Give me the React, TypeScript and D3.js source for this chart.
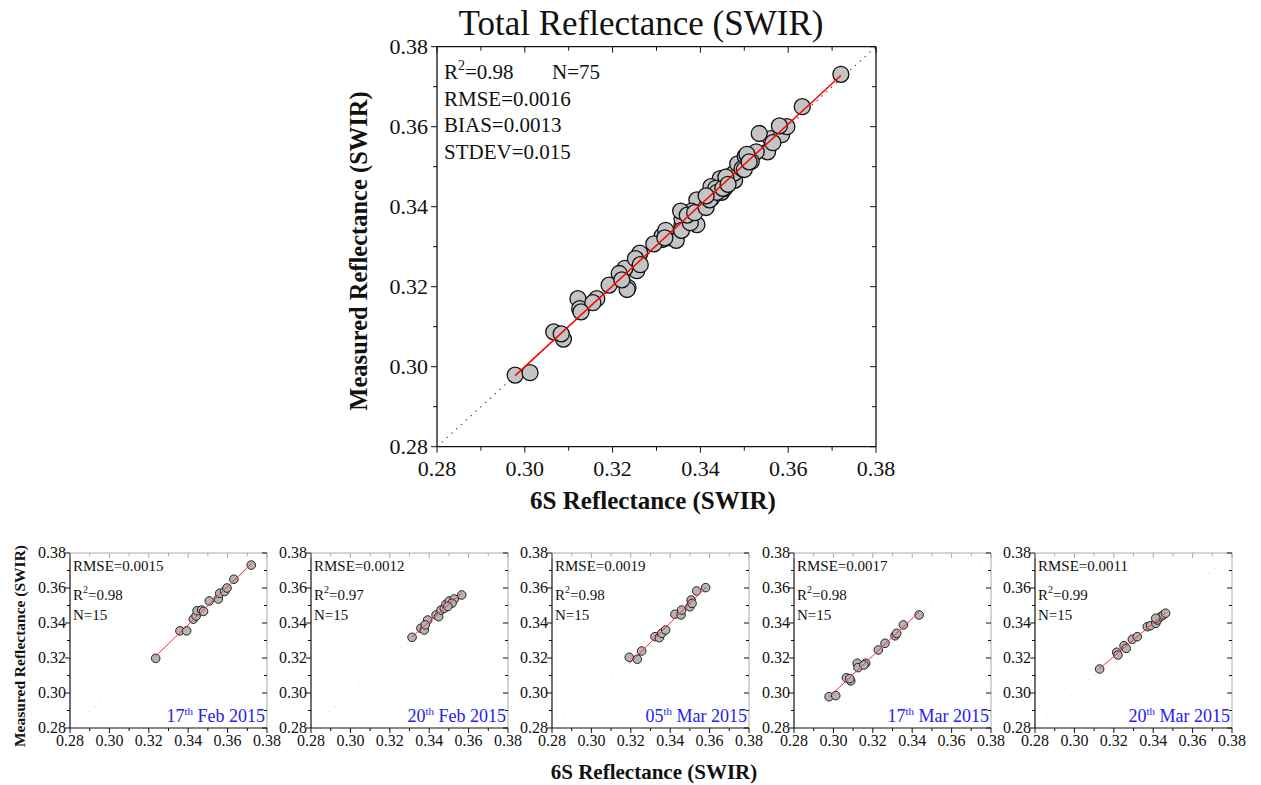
import React from "react";
import * as d3 from "d3";

type Pt = [number, number];

// 6S reflectance (x) vs measured reflectance (y) for each date
const feb17: Pt[] = [
  [0.3235, 0.3198], [0.3358, 0.3355], [0.3392, 0.3355], [0.3426, 0.3422], [0.344, 0.344],
  [0.3445, 0.347], [0.3468, 0.3474], [0.3478, 0.3466], [0.3507, 0.3526], [0.3553, 0.3537],
  [0.356, 0.357], [0.3585, 0.358], [0.3597, 0.36], [0.3632, 0.365], [0.372, 0.3731],
];
const feb20: Pt[] = [
  [0.3313, 0.3318], [0.3358, 0.337], [0.3375, 0.336], [0.3392, 0.3417], [0.338, 0.3389],
  [0.3435, 0.3446], [0.3448, 0.3436], [0.346, 0.3474], [0.3477, 0.3484], [0.3485, 0.3507],
  [0.3502, 0.3526], [0.3527, 0.3537], [0.3516, 0.3513], [0.3565, 0.356], [0.3495, 0.3495],
];
const mar05: Pt[] = [
  [0.3192, 0.3204], [0.3233, 0.3193], [0.3255, 0.324], [0.3323, 0.3322], [0.3345, 0.3316],
  [0.3357, 0.3341], [0.3377, 0.336], [0.3424, 0.345], [0.3455, 0.3446], [0.3458, 0.3474],
  [0.35, 0.3493], [0.3506, 0.3531], [0.3511, 0.3512], [0.3534, 0.3583], [0.358, 0.3602],
];
const mar17: Pt[] = [
  [0.2978, 0.2979], [0.3012, 0.2985], [0.3066, 0.3087], [0.3088, 0.3069], [0.3083, 0.3082],
  [0.3121, 0.317], [0.3125, 0.3145], [0.3164, 0.317], [0.3155, 0.316], [0.3228, 0.3246],
  [0.3262, 0.3284], [0.3313, 0.3327], [0.3321, 0.3341], [0.3355, 0.3389], [0.3435, 0.3446],
];
const mar20: Pt[] = [
  [0.3128, 0.3137], [0.3215, 0.3233], [0.3221, 0.3217], [0.3252, 0.327], [0.3263, 0.3255],
  [0.3294, 0.3307], [0.3319, 0.3322], [0.337, 0.3379], [0.3387, 0.3385], [0.3413, 0.3398],
  [0.3421, 0.3417], [0.3438, 0.3436], [0.3451, 0.3446], [0.3463, 0.3456], [0.3413, 0.3427],
];

const dateSets = [feb17, feb20, mar05, mar17, mar20];
const dateDay = ["17", "20", "05", "17", "20"];
const dateRest = [" Feb 2015", " Feb 2015", " Mar 2015", " Mar 2015", " Mar 2015"];
const smallRmse = ["0.0015", "0.0012", "0.0019", "0.0017", "0.0011"];
const smallR2 = ["0.98", "0.97", "0.98", "0.98", "0.99"];
const smallN = ["15", "15", "15", "15", "15"];

const mainStats = { r2: "0.98", n: "75", rmse: "0.0016", bias: "0.0013", stdev: "0.015" };
const domain: [number, number] = [0.28, 0.38];
const majorTicks = [0.28, 0.3, 0.32, 0.34, 0.36, 0.38];
const minorTicks = [0.29, 0.31, 0.33, 0.35, 0.37];

const FONT = "'Liberation Serif', 'Times New Roman', serif";

function fit(data: Pt[]) {
  const mx = d3.mean(data, (d) => d[0])!;
  const my = d3.mean(data, (d) => d[1])!;
  let sxy = 0, sxx = 0;
  data.forEach(([x, y]) => { sxy += (x - mx) * (y - my); sxx += (x - mx) * (x - mx); });
  const b = sxy / sxx;
  const a = my - b * mx;
  const [x0, x1] = d3.extent(data, (d) => d[0]) as [number, number];
  return [[x0, a + b * x0], [x1, a + b * x1]] as Pt[];
}

type PanelProps = {
  left: number; top: number; width: number; height: number;
  data: Pt[]; r: number; small: boolean; children?: React.ReactNode;
};

function Panel({ left, top, width, height, data, r, small, children }: PanelProps) {
  const x = d3.scaleLinear().domain(domain).range([left, left + width]);
  const y = d3.scaleLinear().domain(domain).range([top + height, top]);
  const line = d3.line<Pt>().x((d) => x(d[0])).y((d) => y(d[1]));
  const reg = fit(data);
  const tickFont = small ? 16 : 22;
  const maj = small ? 5 : 6;
  const mnr = small ? 3 : 4;
  const frameStrong = "#111";
  const frameLight = small ? "#aaa" : "#111";
  const bottom = top + height;
  const right = left + width;
  return (
    <g>
      {/* 1:1 line */}
      <path
        d={line([[0.28, 0.28], [0.38, 0.38]])!}
        stroke={small ? "#bbb" : "#444"}
        strokeWidth={small ? 0.8 : 1.1}
        strokeDasharray={small ? "1,7" : "1.5,5"}
        fill="none"
      />
      {/* frame */}
      <line x1={left} y1={top} x2={right} y2={top} stroke={frameLight} strokeWidth={small ? 1 : 1.3} />
      <line x1={right} y1={top} x2={right} y2={bottom} stroke={frameLight} strokeWidth={small ? 1 : 1.3} />
      <line x1={left} y1={top} x2={left} y2={bottom} stroke={frameStrong} strokeWidth={small ? 1.2 : 1.3} />
      <line x1={left} y1={bottom} x2={right} y2={bottom} stroke={frameStrong} strokeWidth={small ? 1.2 : 1.3} />
      {/* ticks */}
      {majorTicks.map((t) => (
        <g key={"M" + t}>
          <line x1={x(t)} x2={x(t)} y1={bottom} y2={bottom + maj} stroke="#111" />
          <line x1={x(t)} x2={x(t)} y1={top} y2={top + maj} stroke={frameLight} />
          <line x1={left} x2={left - maj} y1={y(t)} y2={y(t)} stroke="#111" />
          <line x1={right} x2={right - maj} y1={y(t)} y2={y(t)} stroke="#111" />
          <text x={x(t)} y={bottom + (small ? 18 : 29)} textAnchor="middle" fontSize={tickFont} fontFamily={FONT} fill="#111">
            {t.toFixed(2)}
          </text>
          <text x={left - (small ? 4 : 9)} y={y(t) + tickFont * 0.33} textAnchor="end" fontSize={tickFont} fontFamily={FONT} fill="#111">
            {t.toFixed(2)}
          </text>
        </g>
      ))}
      {minorTicks.map((t) => (
        <g key={"m" + t}>
          <line x1={x(t)} x2={x(t)} y1={bottom} y2={bottom + mnr} stroke="#111" />
          <line x1={x(t)} x2={x(t)} y1={top} y2={top + mnr} stroke={frameLight} />
          <line x1={left} x2={left - mnr} y1={y(t)} y2={y(t)} stroke="#111" />
          <line x1={right} x2={right - mnr} y1={y(t)} y2={y(t)} stroke="#111" />
        </g>
      ))}
      {/* points */}
      {data.map((d, i) => (
        <circle key={i} cx={x(d[0])} cy={y(d[1])} r={r} fill={small ? "#b4b4b4" : "#c4c4c4"} stroke="#111" strokeWidth={small ? 0.9 : 1.3} />
      ))}
      {/* regression */}
      <path d={line(reg)!} stroke={small ? "#ff3030" : "#ff0000"} strokeWidth={small ? 1 : 1.5} fill="none" />
      {children}
    </g>
  );
}

export default function App() {
  const all: Pt[] = dateSets.flat();
  const smallLefts = [70, 311, 552, 794, 1035];
  return (
    <svg width={1261} height={785} style={{ position: "absolute", left: 0, top: 0 }} fontFamily={FONT}>
      <rect x={0} y={0} width={1261} height={785} fill="#fff" />
      <text x={641} y={35} textAnchor="middle" fontSize={35} fill="#111">Total Reflectance (SWIR)</text>
      <Panel left={437} top={46.7} width={439} height={400} data={all} r={8} small={false}>
        <g fontSize={21} fill="#111">
          <text x={444} y={79}>R<tspan dy={-9} fontSize={14}>2</tspan><tspan dy={9}>={mainStats.r2}</tspan></text>
          <text x={552} y={79}>N={mainStats.n}</text>
          <text x={444} y={105.5}>RMSE={mainStats.rmse}</text>
          <text x={444} y={132}>BIAS={mainStats.bias}</text>
          <text x={444} y={158.5}>STDEV={mainStats.stdev}</text>
        </g>
      </Panel>
      <text x={653} y={509} textAnchor="middle" fontSize={25} fontWeight="bold" fill="#111">6S Reflectance (SWIR)</text>
      <text transform="translate(367,251) rotate(-90)" textAnchor="middle" fontSize={24.5} fontWeight="bold" fill="#111">Measured Reflectance (SWIR)</text>

      {dateSets.map((ds, i) => (
        <Panel key={i} left={smallLefts[i]} top={553} width={197} height={175} data={ds} r={4.3} small={true}>
          <g fontSize={15} fill="#111">
            <text x={smallLefts[i] + 3} y={571}>RMSE={smallRmse[i]}</text>
            <text x={smallLefts[i] + 3} y={600}>R<tspan dy={-7} fontSize={10}>2</tspan><tspan dy={7}>={smallR2[i]}</tspan></text>
            <text x={smallLefts[i] + 3} y={620}>N={smallN[i]}</text>
          </g>
          <text x={smallLefts[i] + 195} y={722} textAnchor="end" fontSize={18} fill="#2222ee">
            {dateDay[i]}<tspan dy={-7} fontSize={11}>th</tspan><tspan dy={7}>{dateRest[i]}</tspan>
          </text>
        </Panel>
      ))}
      <text x={654} y={779} textAnchor="middle" fontSize={21} fontWeight="bold" fill="#111">6S Reflectance (SWIR)</text>
      <text transform="translate(25,646) rotate(-90)" textAnchor="middle" fontSize={15.5} fontWeight="bold" fill="#111">Measured Reflectance (SWIR)</text>
    </svg>
  );
}
